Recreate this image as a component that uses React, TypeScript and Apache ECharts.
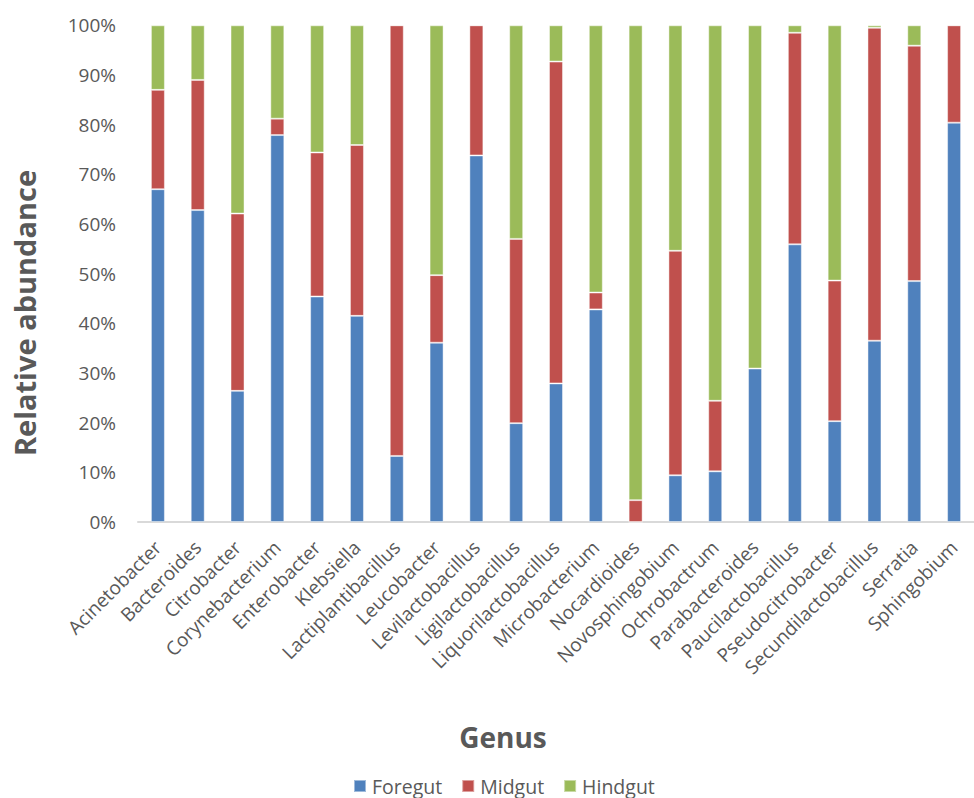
import React, { useEffect, useRef } from "react";
import * as echarts from "echarts";

const genera = [
  "Acinetobacter", "Bacteroides", "Citrobacter", "Corynebacterium", "Enterobacter",
  "Klebsiella", "Lactiplantibacillus", "Leucobacter", "Levilactobacillus", "Ligilactobacillus",
  "Liquorilactobacillus", "Microbacterium", "Nocardioides", "Novosphingobium", "Ochrobactrum",
  "Parabacteroides", "Paucilactobacillus", "Pseudocitrobacter", "Secundilactobacillus", "Serratia",
  "Sphingobium",
];

const foregut = [67.0, 62.8, 26.4, 77.9, 45.4, 41.5, 13.3, 36.1, 73.8, 19.9, 27.9, 42.8, 0, 9.4, 10.2, 30.9, 55.9, 20.3, 36.5, 48.5, 80.4];
const midgut = [20.0, 26.2, 35.7, 3.3, 29.0, 34.4, 86.7, 13.6, 26.2, 37.1, 64.8, 3.4, 4.4, 45.2, 14.2, 0, 42.6, 28.3, 63.0, 47.4, 19.6];
const hindgut = [13.0, 11.0, 37.9, 18.8, 25.6, 24.1, 0, 50.3, 0, 43.0, 7.3, 53.8, 95.6, 45.4, 75.6, 69.1, 1.5, 51.4, 0.5, 4.1, 0];

const seriesNames = ["Foregut", "Midgut", "Hindgut"];
const colors = ["#4F81BD", "#C0504D", "#9BBB59"];
const yTicks = [0, 10, 20, 30, 40, 50, 60, 70, 80, 90, 100];

const FONT = "'Open Sans', 'Noto Sans', sans-serif";
const TEXT = "#595959";

export default function App() {
  const ref = useRef<HTMLDivElement>(null);
  useEffect(() => {
    if (!ref.current) return;
    const chart = echarts.init(ref.current, null, { renderer: "svg" });
    const data = [foregut, midgut, hindgut];
    chart.setOption({
      animation: false,
      textStyle: { fontFamily: FONT },
      grid: { left: 138, top: 25.3, width: 850.5, height: 496.7, containLabel: false },
      xAxis: {
        type: "category",
        data: genera,
        axisLine: { show: true, lineStyle: { color: "#D9D9D9", width: 2 } },
        axisTick: { show: false },
        axisLabel: {
          interval: 0,
          rotate: 45,
          margin: 22,
          fontSize: 19,
          color: TEXT,
          fontFamily: FONT,
        },
      },
      yAxis: {
        type: "value",
        min: 0,
        max: 100,
        interval: 10,
        axisLine: { show: false },
        axisTick: { show: false },
        splitLine: { show: false },
        axisLabel: {
          margin: 22,
          fontSize: 19,
          color: TEXT,
          fontFamily: FONT,
          formatter: (v: number) => (yTicks.includes(v) ? v + "%" : ""),
        },
      },
      legend: {
        data: seriesNames,
        left: 353,
        top: 776,
        padding: 0,
        itemWidth: 12,
        itemHeight: 12,
        itemGap: 19,
        icon: "rect",
        textStyle: { fontSize: 19.5, lineHeight: 19, color: TEXT, fontFamily: FONT, padding: [0, 0, 0, 1] },
      },
      graphic: [
        {
          type: "text",
          x: 503,
          y: 737,
          style: {
            text: "Genus",
            font: `bold 28px ${FONT}`,
            fill: TEXT,
            textAlign: "center",
            textVerticalAlign: "middle",
          },
        },
        {
          type: "text",
          x: 24,
          y: 313,
          rotation: Math.PI / 2,
          style: {
            text: "Relative abundance",
            font: `bold 29px ${FONT}`,
            fill: TEXT,
            textAlign: "center",
            textVerticalAlign: "middle",
          },
        },
      ],
      series: seriesNames.map((name, i) => ({
        name,
        type: "bar",
        stack: "total",
        barWidth: 14,
        data: data[i],
        itemStyle: {
          color: colors[i],
          borderColor: "rgba(255,255,255,0.45)",
          borderWidth: 1,
        },
      })),
    });
    return () => chart.dispose();
  }, []);
  return (
    <div
      ref={ref}
      style={{ position: "absolute", left: 0, top: 0, width: 974, height: 798 }}
    />
  );
}
